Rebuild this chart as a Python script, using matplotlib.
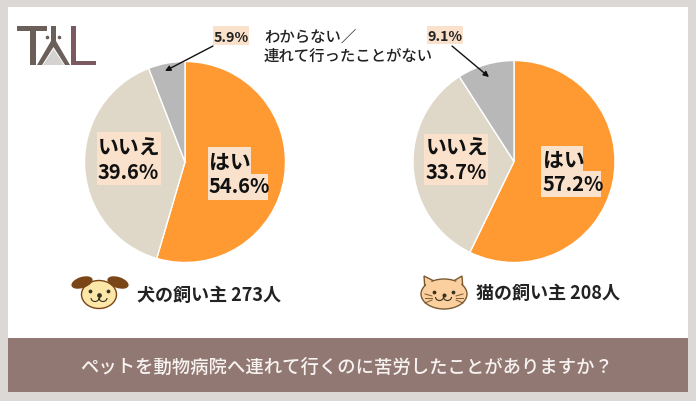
import matplotlib
matplotlib.use("Agg")
import matplotlib.pyplot as plt
from matplotlib.patches import Rectangle, Ellipse, Polygon, Arc

plt.rcParams['font.family'] = ['Noto Sans CJK JP', 'DejaVu Sans']

W, H = 696, 402
labels = ["はい", "いいえ"]
other_lines = ["わからない／", "連れて行ったことがない"]
dog_values = [54.6, 39.6, 5.9]
cat_values = [57.2, 33.7, 9.1]
colors = ["#FF9A33", "#DFD8C8", "#B8B8B8"]
dog_title = "犬の飼い主 273人"
cat_title = "猫の飼い主 208人"
question = "ペットを動物病院へ連れて行くのに苦労したことがありますか？"

fig = plt.figure(figsize=(W / 100, H / 100), dpi=100, facecolor="#DCD8D5")
bg = fig.add_axes([0, 0, 1, 1])
bg.set_xlim(0, W); bg.set_ylim(H, 0); bg.axis("off")
bg.add_patch(Rectangle((8, 8), 680, 331, fc="white", ec="none"))
bg.add_patch(Rectangle((8, 339), 680, 53.5, fc="#917873", ec="none"))

def pie(cx, cy, r, vals):
    ax = fig.add_axes([(cx - r) / W, 1 - (cy + r) / H, 2 * r / W, 2 * r / H])
    ax.pie(vals, colors=colors, startangle=90, counterclock=False, radius=1,
           wedgeprops=dict(edgecolor="white", linewidth=1.0))
    ax.set_xlim(-1, 1); ax.set_ylim(-1, 1); ax.axis("off")
    ax.patch.set_alpha(0)

pie(185, 163, 100.5, dog_values)
pie(514, 162.5, 101, cat_values)

top = fig.add_axes([0, 0, 1, 1])
top.set_xlim(0, W); top.set_ylim(H, 0); top.axis("off"); top.patch.set_alpha(0)

HL = "#FAE1CB"
def hl(x0, y0, x1, y1):
    top.add_patch(Rectangle((x0, y0), x1 - x0, y1 - y0, fc=HL, ec="none"))

hl(97, 133, 161, 186)
hl(424, 135, 488, 186)
hl(208, 148, 251, 175); hl(208, 175, 268, 201)
hl(541, 147, 583, 172); hl(541, 172, 601, 198)
hl(213, 27, 249, 46)
hl(427, 27, 463, 45)

def big(x, y1, y2, name, val):
    top.text(x, y1, name, ha="left", va="center", fontsize=15, fontweight="bold", color="#111111")
    top.text(x, y2, f"{val}%", ha="left", va="center", fontsize=14.5, fontweight="bold", color="#111111")

big(209, 162, 187, labels[0], dog_values[0])
big(98, 148, 173, labels[1], dog_values[1])
big(543, 160, 185, labels[0], cat_values[0])
big(426, 148, 173, labels[1], cat_values[1])

top.text(231, 37.5, f"{dog_values[2]}%", ha="center", va="center", fontsize=10.2, fontweight="bold", color="#222222")
top.text(444.5, 37, f"{cat_values[2]}%", ha="center", va="center", fontsize=10.2, fontweight="bold", color="#222222")

arrow = dict(arrowstyle="-|>,head_width=0.16,head_length=0.32", color="#111111", lw=1, shrinkA=0, shrinkB=0)
top.annotate("", xy=(165, 72), xytext=(213, 47), arrowprops=arrow)
top.annotate("", xy=(489, 78), xytext=(452, 47), arrowprops=arrow)

top.text(264, 37.5, other_lines[0], ha="left", va="center", fontsize=11.1, fontweight="medium", color="#222222")
top.text(264, 56.5, other_lines[1], ha="left", va="center", fontsize=11.1, fontweight="medium", color="#222222")

top.text(137, 295, dog_title, ha="left", va="center", fontsize=13, fontweight="bold", color="#222222")
top.text(476, 293, cat_title, ha="left", va="center", fontsize=13, fontweight="bold", color="#222222")
top.text(347, 367.5, question, ha="center", va="center", fontsize=13.2, fontweight="medium", color="#F7F3F1")

# logo
LG = "#6B5F5A"; LR = "#7A5A60"
top.add_patch(Polygon([(43, 66), (53.5, 50), (64, 66)], fc="#D5D3D1", ec="none"))
top.add_patch(Rectangle((17, 27), 30, 5, fc=LG, ec="none"))
top.add_patch(Rectangle((30, 27), 6, 39, fc=LG, ec="none"))
top.add_patch(Rectangle((51, 27), 5, 16, fc=LG, ec="none"))
top.add_patch(Polygon([(37, 66), (51, 42), (56, 42), (70, 66), (65, 66), (53.5, 48), (42, 66)], fc=LG, ec="none"))
top.add_patch(Rectangle((71, 27), 5, 39, fc=LR, ec="none"))
top.add_patch(Rectangle((71, 62), 25, 4, fc=LR, ec="none"))
top.plot([47, 59], [38, 38], ls="none", marker="o", ms=1.6, color=LG)

# dog icon
BR = "#7A4517"; FC = "#333322"
top.add_patch(Ellipse((99, 295.5), 35, 28, fc="#FCE6A8", ec=BR, lw=1))
top.add_patch(Ellipse((82, 283.5), 22, 11, angle=-18, fc=BR, ec="none"))
top.add_patch(Ellipse((118, 283.5), 22, 11, angle=18, fc=BR, ec="none"))
top.plot([90, 108], [292, 292], ls="none", marker="o", ms=1.7, color=FC)
top.plot([99], [296], marker="o", ms=2.4, color=FC)
top.plot([99, 99], [296, 300], color=FC, lw=0.8)
top.add_patch(Arc((95, 299), 8, 7, theta1=0, theta2=180, color=FC, lw=0.8))
top.add_patch(Arc((103, 299), 8, 7, theta1=0, theta2=180, color=FC, lw=0.8))

# cat icon
CF = "#FBCF9E"; CE = "#7A5A33"
top.add_patch(Polygon([(425, 291), (424, 277), (438, 284)], fc=CF, ec=CE, lw=1))
top.add_patch(Polygon([(450, 284), (462, 277), (463, 291)], fc=CF, ec=CE, lw=1))
top.add_patch(Ellipse((444, 295), 46, 30, fc=CF, ec=CE, lw=1))
top.add_patch(Polygon([(426.5, 290), (425.5, 279.5), (437, 285.5), (437, 290)], fc=CF, ec="none"))
top.add_patch(Polygon([(461.5, 290), (461, 279.5), (451, 285.5), (451, 290)], fc=CF, ec="none"))
top.plot([434, 453], [293, 293], ls="none", marker="o", ms=1.7, color=FC)
top.plot([443.5], [296], marker="o", ms=1.9, color=FC)
top.add_patch(Arc((439.5, 298), 8, 7, theta1=0, theta2=180, color=FC, lw=0.8))
top.add_patch(Arc((447.5, 298), 8, 7, theta1=0, theta2=180, color=FC, lw=0.8))
for y0, y1 in [(295, 297), (299, 299), (304, 301)]:
    top.plot([425, 432], [y0, y1], color=CE, lw=0.7)
    top.plot([463, 456], [y0, y1], color=CE, lw=0.7)

fig.savefig("out.png", dpi=100, facecolor=fig.get_facecolor())
